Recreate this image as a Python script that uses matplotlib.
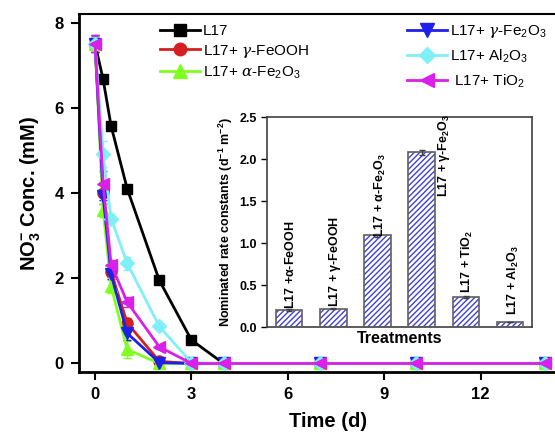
import matplotlib
matplotlib.use("Agg")
import matplotlib.pyplot as plt
from matplotlib.lines import Line2D
import numpy as np

plt.rcParams['font.family'] = ['Liberation Sans', 'DejaVu Sans']
plt.rcParams['mathtext.fontset'] = 'custom'
plt.rcParams['mathtext.rm'] = 'Liberation Sans'
plt.rcParams['mathtext.it'] = 'DejaVu Serif:italic'
plt.rcParams['mathtext.bf'] = 'Liberation Sans:bold'
plt.rcParams['hatch.linewidth'] = 1.0

# ---------------- data ----------------
time_d = [0, 0.25, 0.5, 1, 2, 3, 4, 7, 10, 14]

l17        = [7.50, 6.67, 5.57, 4.10, 1.95, 0.55, 0.0, 0.0, 0.0, 0.0]
l17_feooh  = [7.50, 4.00, 2.14, 0.95, 0.05, 0.0, 0.0, 0.0, 0.0, 0.0]
l17_afe2o3 = [7.50, 3.59, 1.81, 0.33, 0.0, 0.0, 0.0, 0.0, 0.0, 0.0]
l17_gfe2o3 = [7.50, 3.94, 2.09, 0.71, 0.02, 0.0, 0.0, 0.0, 0.0, 0.0]
l17_al2o3  = [7.50, 4.92, 3.40, 2.35, 0.87, 0.02, 0.0, 0.0, 0.0, 0.0]
l17_tio2   = [7.50, 4.22, 2.32, 1.44, 0.39, 0.0, 0.0, 0.0, 0.0, 0.0]

err_l17   = [0.12, 0.05, 0.05, 0.05, 0.05, 0.03, 0.0, 0.0, 0.0, 0.0]
err_feooh = [0.18, 0.25, 0.10, 0.12, 0.05, 0.0, 0.0, 0.0, 0.0, 0.0]
err_afe   = [0.15, 0.15, 0.15, 0.20, 0.08, 0.0, 0.0, 0.0, 0.0, 0.0]
err_gfe   = [0.20, 0.10, 0.10, 0.15, 0.05, 0.0, 0.0, 0.0, 0.0, 0.0]
err_al    = [0.15, 0.30, 0.10, 0.15, 0.05, 0.0, 0.0, 0.0, 0.0, 0.0]
err_ti    = [0.20, 0.30, 0.10, 0.12, 0.05, 0.0, 0.0, 0.0, 0.0, 0.0]

series_labels = ['L17', r'L17+ $\gamma$-FeOOH', r'L17+ $\alpha$-Fe$_2$O$_3$',
                 r'L17+ $\gamma$-Fe$_2$O$_3$', r'L17+ Al$_2$O$_3$', r' L17+ TiO$_2$']

bar_labels = [r'L17 +$\mathbf{\alpha}$-FeOOH', r'L17 + $\mathbf{\gamma}$-FeOOH',
              r'L17 + $\mathbf{\alpha}$-Fe$_\mathbf{2}$O$_\mathbf{3}$',
              r'L17 + $\mathbf{\gamma}$-Fe$_\mathbf{2}$O$_\mathbf{3}$',
              r'L17 + TiO$_\mathbf{2}$', r'L17 + Al$_\mathbf{2}$O$_\mathbf{3}$']
rate_const = [0.20, 0.22, 1.09, 2.08, 0.36, 0.06]
rate_err   = [0.01, 0.01, 0.02, 0.03, 0.01, 0.005]

# ---------------- figure ----------------
fig = plt.figure(figsize=(5.55, 4.34), dpi=100)
ax = fig.add_axes([79/555, 1-372/434, 498/555, 358/434])

styles = [
    (l17,        err_l17,   '#000000', 's', 7),
    (l17_feooh,  err_feooh, '#d42020', 'o', 8),
    (l17_afe2o3, err_afe,   '#80ff20', '^', 9),
    (l17_gfe2o3, err_gfe,   '#2020e8', 'v', 9),
    (l17_al2o3,  err_al,    '#80f0f8', 'D', 7),
    (l17_tio2,   err_ti,    '#d820e8', '<', 9),
]
handles = []
for (vals, err, col, mk, ms), lab in zip(styles, series_labels):
    ax.errorbar(time_d, vals, yerr=err, color=col, marker=mk, ms=ms, lw=2,
                capsize=3, elinewidth=1, capthick=1, clip_on=False, zorder=3)
    handles.append(Line2D([], [], color=col, marker=mk, ms=ms + 1, lw=2, label=lab))

ax.set_xlim(-0.5, 15)
ax.set_ylim(-0.2, 8.2)
ax.set_xticks([0, 3, 6, 9, 12])
ax.set_yticks([0, 2, 4, 6, 8])
ax.tick_params(direction='out', length=6, width=1.5, labelsize=12, pad=5)
for lab in ax.get_xticklabels() + ax.get_yticklabels():
    lab.set_fontweight('bold')
ax.spines['left'].set_linewidth(2)
ax.spines['bottom'].set_linewidth(2)
ax.spines['top'].set_linewidth(1.5)
ax.spines['right'].set_visible(False)
ax.set_xlabel('Time (d)', fontsize=14.5, fontweight='bold', labelpad=7)
ax.set_ylabel(r'NO$_\mathbf{3}^{\mathbf{-}}$ Conc. (mM)', fontsize=14.5, fontweight='bold', labelpad=8)

leg1 = fig.legend(handles=handles[:3], loc='upper left', bbox_to_anchor=(160/555, 1-24/434),
                  frameon=False, fontsize=11, handlelength=2.6, handletextpad=0.2,
                  labelspacing=0.3, borderpad=0, borderaxespad=0)
leg2 = fig.legend(handles=handles[3:], loc='upper left', bbox_to_anchor=(407/555, 1-23/434),
                  frameon=False, fontsize=11, handlelength=2.6, handletextpad=0.2,
                  labelspacing=0.5, borderpad=0, borderaxespad=0)

# ---------------- inset ----------------
ins = fig.add_axes([267/555, 1-327/434, 265/555, 210/434])
pos = np.arange(len(rate_const))
ins.bar(pos, rate_const, width=0.6, color='white', edgecolor='#4040e0', hatch='//////',
        linewidth=0, zorder=2)
ins.bar(pos, rate_const, width=0.6, color='none', edgecolor='#606060', linewidth=1.2,
        yerr=rate_err, error_kw=dict(ecolor='#404040', elinewidth=1, capsize=2), zorder=3)
label_x = [0.03, 1.03, 2.06, 3.5, 4.04, 5.07]
label_y = [0.22, 0.24, 1.07, 1.55, 0.41, 0.14]
for x, y, t in zip(label_x, label_y, bar_labels):
    ins.text(x, y, t, rotation=90, ha='center', va='bottom', fontsize=9, fontweight='bold')
ins.set_xlim(-0.5, 5.5)
ins.set_ylim(0, 2.5)
ins.set_xticks([])
ins.set_yticks([0, 0.5, 1.0, 1.5, 2.0, 2.5])
ins.set_yticklabels(['0.0', '0.5', '1.0', '1.5', '2.0', '2.5'])
ins.tick_params(direction='out', length=4, width=1, labelsize=9)
for lab in ins.get_yticklabels():
    lab.set_fontweight('bold')
for s in ins.spines.values():
    s.set_linewidth(1.2)
    s.set_color('#404040')
ins.set_ylabel(r'Nominated rate constants (d$^{\mathbf{-1}}$ m$^{\mathbf{-2}}$)', fontsize=9,
               fontweight='bold', labelpad=3)
ins.set_xlabel('Treatments', fontsize=11.5, fontweight='bold', labelpad=3)

fig.savefig('out.png', dpi=100)
